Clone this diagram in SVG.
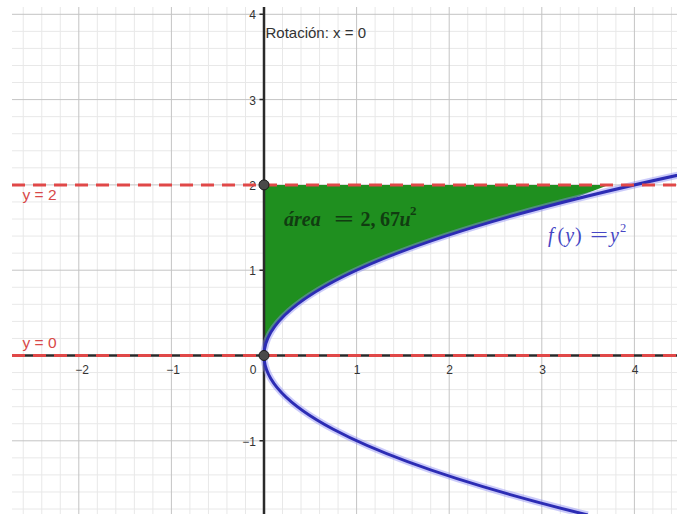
<svg xmlns="http://www.w3.org/2000/svg" width="677" height="514" viewBox="0 0 677 514">
<style>
.minor{stroke:#e8e8e8;stroke-width:1;fill:none}
.major{stroke:#c4c4c4;stroke-width:1;fill:none}
.axis{stroke:#2a2a2a;stroke-width:2.5;fill:none}
.dash{stroke:#e04848;stroke-width:3;stroke-dasharray:13 8;fill:none}
.tick{font-family:"Liberation Sans",Arial,sans-serif;font-size:12px;fill:#333}
.red{font-family:"Liberation Sans",Arial,sans-serif;font-size:15.5px;fill:#d84848}
.math{font-family:"Liberation Serif","Times New Roman",serif;font-size:20px}
.dot{fill:#4a4a4a;stroke:#1a1a1a;stroke-width:1}
</style>
<rect width="677" height="514" fill="#fff"/>
<g id="grid">
<path class="minor" d="M23.24,7V514M41.76,7V514M60.28,7V514M97.32,7V514M115.84,7V514M134.36,7V514M152.88,7V514M189.92,7V514M208.44,7V514M226.96,7V514M245.48,7V514M282.52,7V514M301.04,7V514M319.56,7V514M338.08,7V514M375.12,7V514M393.64,7V514M412.16,7V514M430.68,7V514M467.72,7V514M486.24,7V514M504.76,7V514M523.28,7V514M560.32,7V514M578.84,7V514M597.36,7V514M615.88,7V514M652.92,7V514M671.44,7V514"/>
<path class="minor" d="M12,31.36H677M12,48.42H677M12,65.48H677M12,82.54H677M12,116.66H677M12,133.72H677M12,150.78H677M12,167.84H677M12,201.96H677M12,219.02H677M12,236.08H677M12,253.14H677M12,287.26H677M12,304.32H677M12,321.38H677M12,338.44H677M12,372.56H677M12,389.62H677M12,406.68H677M12,423.74H677M12,457.86H677M12,474.92H677M12,491.98H677M12,509.04H677"/>
<path class="major" d="M78.8,7V514M171.4,7V514M356.6,7V514M449.2,7V514M541.8,7V514M634.4,7V514M12,14.3H677M12,99.6H677M12,184.9H677M12,270.2H677M12,440.8H677"/>
</g>
<g id="area">
<path d="M264,184.9 L608.5,184.9 L564,202 Q264,278.7 264,355.5 Z" fill="#1f8f1f"/>
</g>
<g id="axes">
<path class="axis" d="M264,7V514M12,355.5H677"/>
<path d="M259.5,14.3H264M259.5,99.6H264M259.5,184.9H264M259.5,270.2H264M259.5,440.8H264" stroke="#2a2a2a" stroke-width="1.5"/>
<text class="tick" x="82" y="374" text-anchor="middle">−2</text>
<text class="tick" x="173" y="374" text-anchor="middle">−1</text>
<text class="tick" x="253" y="374" text-anchor="middle">0</text>
<text class="tick" x="357" y="374" text-anchor="middle">1</text>
<text class="tick" x="449.5" y="374" text-anchor="middle">2</text>
<text class="tick" x="542.5" y="374" text-anchor="middle">3</text>
<text class="tick" x="635" y="374" text-anchor="middle">4</text>
<text class="tick" x="256" y="19" text-anchor="end">4</text>
<text class="tick" x="256" y="104.5" text-anchor="end">3</text>
<text class="tick" x="256" y="189.5" text-anchor="end">2</text>
<text class="tick" x="256" y="275" text-anchor="end">1</text>
<text class="tick" x="256" y="445.5" text-anchor="end">−1</text>
</g>
<g id="curve">
<path d="M587.8,515 Q-108.3,343.56 692,172.1" fill="none" stroke="#8c8cf5" stroke-opacity="0.45" stroke-width="7"/>
<path d="M587.8,515 Q-108.3,343.56 692,172.1" fill="none" stroke="#2c2cb4" stroke-width="3"/>
</g>
<g id="lines">
<path class="dash" d="M12,184.9H677"/>
<path class="dash" d="M12,355.5H677"/>
<text class="red" x="22.5" y="200">y = 2</text>
<text class="red" x="22.5" y="347.5">y = 0</text>
</g>
<g id="points">
<circle class="dot" cx="264" cy="184.9" r="5"/>
<circle class="dot" cx="264" cy="355.5" r="5"/>
</g>
<g id="labels">
<text x="265.5" y="38" font-family="'Liberation Sans',Arial,sans-serif" font-size="15px" fill="#333">Rotación: x = 0</text>
<g fill="#113c11" class="math" font-weight="bold">
<text x="284" y="225.5" font-style="italic">área</text>
<text transform="translate(334,225.5) scale(1.75,1)">=</text>
<text x="360.5" y="225.5">2,</text>
<text x="380" y="225.5">67</text>
<text x="399.5" y="225.5" font-style="italic">u</text>
<text x="410" y="215" font-size="13px">2</text>
</g>
<g fill="#4646c4" class="math" font-size="19px">
<text x="548" y="241.5" font-style="italic">f</text>
<text x="557.5" y="241.5" letter-spacing="1">(<tspan font-style="italic">y</tspan>)</text>
<text transform="translate(590,241.5) scale(1.6,1)">=</text>
<text x="610" y="241.5" font-style="italic">y</text>
<text x="620" y="232" font-size="12.5px">2</text>
</g>
</g>
</svg>
